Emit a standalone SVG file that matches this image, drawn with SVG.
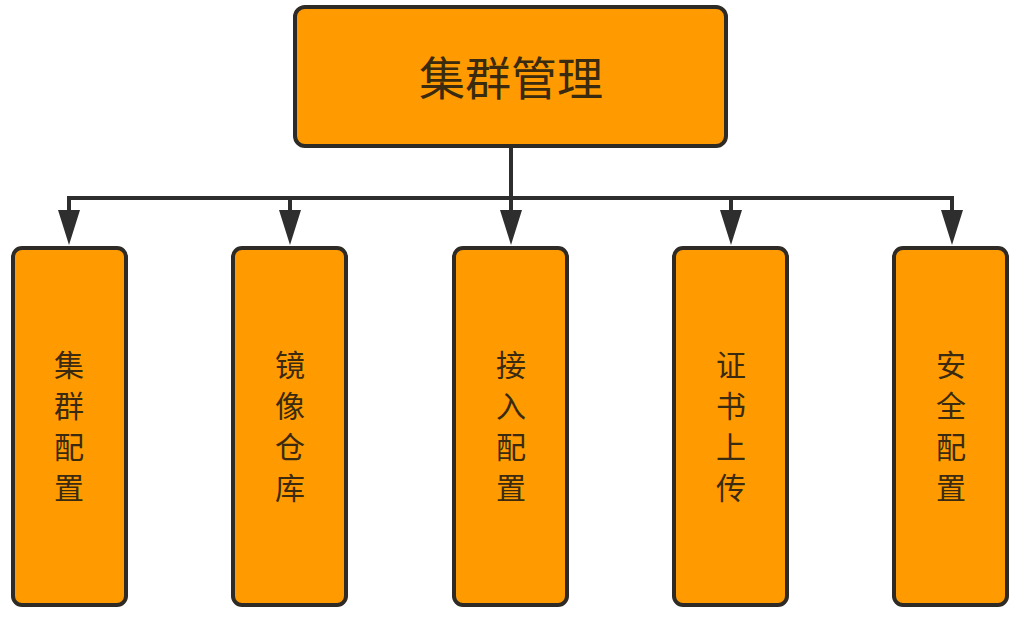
<svg xmlns="http://www.w3.org/2000/svg" width="1024" height="619" viewBox="0 0 1024 619">
<defs>
<style>
.box{fill:#FF9A00;stroke:#2e2a25;stroke-width:4}
.t{font-family:"Noto Sans CJK SC",sans-serif;fill:#3a2a10;text-anchor:middle}
.c{stroke:#2e2e2e;stroke-width:4;fill:none}
.ah{fill:#2e2e2e}
</style>
</defs>
<rect width="1024" height="619" fill="#fff"/>
<g id="connectors">
<path class="c" d="M511 147V198M69 198H952M69 196V212M290 196V212M511 198V212M731 196V212M952 196V212"/>
<path class="ah" d="M58 210H80L69 245ZM279 210H301L290 245ZM500 210H522L511 245ZM720 210H742L731 245ZM941 210H963L952 245Z"/>
</g>
<g id="root"><rect class="box" x="295" y="7" width="431" height="139" rx="10"/><text class="t" x="511" y="95" font-size="46">集群管理</text></g>
<g id="n1"><rect class="box" x="13" y="248" width="113" height="357" rx="9"/><text class="t" x="69" font-size="30"><tspan x="69" y="376">集</tspan><tspan x="69" y="417">群</tspan><tspan x="69" y="458">配</tspan><tspan x="69" y="499">置</tspan></text></g>
<g id="n2"><rect class="box" x="233" y="248" width="113" height="357" rx="9"/><text class="t" font-size="30"><tspan x="290" y="376">镜</tspan><tspan x="290" y="417">像</tspan><tspan x="290" y="458">仓</tspan><tspan x="290" y="499">库</tspan></text></g>
<g id="n3"><rect class="box" x="454" y="248" width="113" height="357" rx="9"/><text class="t" font-size="30"><tspan x="511" y="376">接</tspan><tspan x="511" y="417">入</tspan><tspan x="511" y="458">配</tspan><tspan x="511" y="499">置</tspan></text></g>
<g id="n4"><rect class="box" x="674" y="248" width="113" height="357" rx="9"/><text class="t" font-size="30"><tspan x="731" y="376">证</tspan><tspan x="731" y="417">书</tspan><tspan x="731" y="458">上</tspan><tspan x="731" y="499">传</tspan></text></g>
<g id="n5"><rect class="box" x="894" y="248" width="113" height="357" rx="9"/><text class="t" font-size="30"><tspan x="951" y="376">安</tspan><tspan x="951" y="417">全</tspan><tspan x="951" y="458">配</tspan><tspan x="951" y="499">置</tspan></text></g>
</svg>
